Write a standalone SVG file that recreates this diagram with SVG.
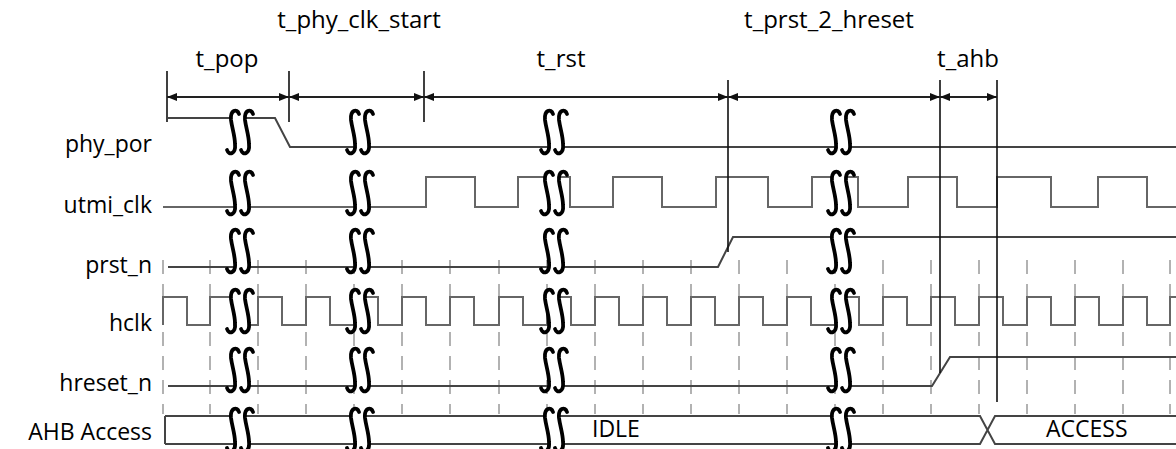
<svg xmlns="http://www.w3.org/2000/svg" xmlns:xlink="http://www.w3.org/1999/xlink" width="1176" height="449" viewBox="0 0 1176 449">
<style>
.lbl{font-family:"Open Sans","Noto Sans","Liberation Sans",sans-serif;font-size:23px;fill:#000;}
.sl{text-anchor:end;}
.tl{text-anchor:middle;font-size:24px;}
.sig{fill:none;stroke:#444;stroke-width:2;stroke-linejoin:miter;}
.clk{fill:none;stroke:#666;stroke-width:2;}
.grid{fill:none;stroke:#999;stroke-width:1.5;stroke-dasharray:14 10;}
.mark{fill:none;stroke:#111;stroke-width:1.6;}
.dim{fill:none;stroke:#222;stroke-width:2;marker-start:url(#ah);marker-end:url(#ah);}
.sq{fill:none;stroke:#000;stroke-width:3.8;stroke-linecap:round;}
</style>
<defs>
<marker id="ah" viewBox="0 0 10 8" refX="10" refY="4" markerWidth="10" markerHeight="8" markerUnits="userSpaceOnUse" orient="auto-start-reverse">
<path d="M0,0 L10,4 L0,8 Z" fill="#111"/>
</marker>
<g id="brk">
<path d="M-9,-20 L-9,-12 C-8,-4 -5,4 -5,12 L-5,20 L9,20 L9,12 C9,4 6,-4 5,-12 L5,-20 Z" fill="#fff"/>
<path class="sq" d="M-1,-18 C-3,-24 -10,-22 -9,-12 C-8,-4 -5,4 -5,12 C-4,22 -11,24 -13,18"/>
<path class="sq" d="M13,-18 C11,-24 4,-22 5,-12 C6,-4 9,4 9,12 C10,22 3,24 1,18"/>
</g>
</defs>
<rect width="1176" height="449" fill="#fff"/>

<g id="grid">
<path class="grid" d="M163,260V414 M210,260V414 M258,260V414 M306,260V414 M354,260V414 M402,260V414 M450,260V414 M499,260V414 M547,260V414 M595,260V414 M643,260V414 M691,260V414 M739,260V414 M787,260V414 M835,260V414 M883,260V414 M931,260V414 M979,260V414 M1027,260V414 M1075,260V414 M1123,260V414 M1170,260V414"/>
</g>

<g id="sig-phy_por">
<text class="lbl sl" x="152" y="152">phy_por</text>
<path class="sig" d="M168,118 H275 L290,147 H1176"/>
</g>

<g id="sig-utmi_clk">
<text class="lbl sl" x="152" y="213">utmi_clk</text>
<path class="clk" d="M163,207 H426 V177 H475 V207 H518 V177 H570 V207 H613 V177 H662 V207 H716 V177 H768 V207 H812 V177 H858 V207 H908 V177 H957 V207 H997 V177 H1051 V207 H1098 V177 H1147 V207 H1176"/>
</g>

<g id="sig-prst_n">
<text class="lbl sl" x="152" y="273">prst_n</text>
<path class="sig" d="M168,267 H718 L733,237 H1176"/>
</g>

<g id="sig-hclk">
<text class="lbl sl" x="152" y="331">hclk</text>
<path class="clk" d="M163,325 V297 H187 V325 H210 V297 H234 V325 H258 V297 H282 V325 H306 V297 H330 V325 H354 V297 H378 V325 H402 V297 H426 V325 H450 V297 H474 V325 H499 V297 H523 V325 H547 V297 H571 V325 H595 V297 H619 V325 H643 V297 H667 V325 H691 V297 H715 V325 H739 V297 H763 V325 H787 V297 H811 V325 H835 V297 H859 V325 H883 V297 H907 V325 H931 V297 H955 V325 H979 V297 H1003 V325 H1027 V297 H1051 V325 H1075 V297 H1099 V325 H1123 V297 H1147 V325 H1170 V297 H1176"/>
</g>

<g id="sig-hreset_n">
<text class="lbl sl" x="152" y="391">hreset_n</text>
<path class="sig" d="M168,386 H932 L950,357 H1176"/>
</g>

<g id="sig-ahb">
<text class="lbl sl" x="152" y="440">AHB Access</text>
<path class="sig" d="M165,416 V444 M165,416 H980 L995,444 H1176 M165,444 H980 L995,416 H1176"/>
<text class="lbl" x="592" y="437" font-size="21">IDLE</text>
<text class="lbl" x="1046" y="437" font-size="21">ACCESS</text>
</g>

<g id="connectors">
<path class="mark" d="M167,71 V122 M289,71 V122 M424,71 V122 M728,80 V252 M940,80 V373 M997,80 V402"/>
<line class="dim" x1="167" y1="97" x2="289" y2="97"/>
<line class="dim" x1="289" y1="97" x2="424" y2="97"/>
<line class="dim" x1="424" y1="97" x2="728" y2="97"/>
<line class="dim" x1="728" y1="97" x2="940" y2="97"/>
<line class="dim" x1="940" y1="97" x2="997" y2="97"/>
<text class="lbl tl" x="227" y="67">t_pop</text>
<text class="lbl tl" x="359" y="28">t_phy_clk_start</text>
<text class="lbl tl" x="561" y="67">t_rst</text>
<text class="lbl tl" x="829" y="28">t_prst_2_hreset</text>
<text class="lbl tl" x="968" y="67">t_ahb</text>
</g>

<g id="breaks">
<use xlink:href="#brk" x="240" y="132"/><use xlink:href="#brk" x="360" y="132"/><use xlink:href="#brk" x="554" y="132"/><use xlink:href="#brk" x="841" y="132"/>
<use xlink:href="#brk" x="240" y="193"/><use xlink:href="#brk" x="360" y="193"/><use xlink:href="#brk" x="554" y="193"/><use xlink:href="#brk" x="841" y="193"/>
<use xlink:href="#brk" x="240" y="251"/><use xlink:href="#brk" x="360" y="251"/><use xlink:href="#brk" x="554" y="251"/><use xlink:href="#brk" x="841" y="251"/>
<use xlink:href="#brk" x="240" y="311"/><use xlink:href="#brk" x="360" y="311"/><use xlink:href="#brk" x="554" y="311"/><use xlink:href="#brk" x="841" y="311"/>
<use xlink:href="#brk" x="240" y="370"/><use xlink:href="#brk" x="360" y="370"/><use xlink:href="#brk" x="554" y="370"/><use xlink:href="#brk" x="841" y="370"/>
<use xlink:href="#brk" x="240" y="430"/><use xlink:href="#brk" x="360" y="430"/><use xlink:href="#brk" x="554" y="430"/><use xlink:href="#brk" x="841" y="430"/>
</g>
</svg>
